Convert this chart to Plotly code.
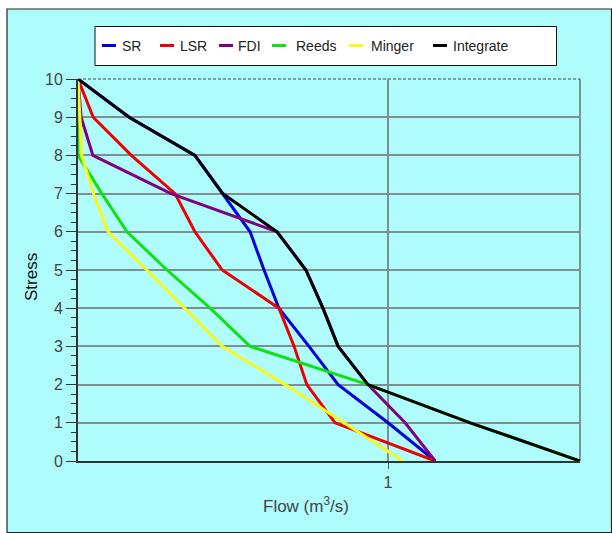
import plotly.graph_objects as go

# Stress levels (y) and flow for each method (x, m3/s)
stress = [10, 9, 8, 7, 6, 5, 4, 3, 2, 1, 0]
sr = [0, 0.165, 0.377, 0.467, 0.555, 0.60, 0.648, 0.745, 0.839, 1.0, 1.152]
lsr = [0, 0.049, 0.172, 0.313, 0.377, 0.465, 0.648, 0.697, 0.738, 0.829, 1.152]
fdi = [0, 0.01, 0.048, 0.30, 0.642, 0.735, 0.79, 0.839, 0.935, 1.055, 1.152]
reeds = [0, 0, 0, 0.077, 0.158, 0.287, 0.426, 0.555, 0.935, 1.265, 1.619]
minger = [0, 0.005, 0.012, 0.05, 0.097, 0.222, 0.345, 0.465, 0.668, 0.86, 1.048]
integrate = [0, 0.165, 0.377, 0.467, 0.642, 0.735, 0.79, 0.839, 0.935, 1.265, 1.619]

series_names = ["SR", "LSR", "FDI", "Reeds", "Minger", "Integrate"]
series_values = [sr, lsr, fdi, reeds, minger, integrate]
series_colors = ["#0000DD", "#EE0000", "#800080", "#11E011", "#F8F820", "#000000"]

x_ticks = [1]
y_ticks = list(range(0, 11))

BG = "#AEFCFC"
FONT = "Liberation Sans, Arial, sans-serif"

fig = go.Figure()
for name, vals, col in zip(series_names, series_values, series_colors):
    fig.add_trace(go.Scatter(x=vals, y=stress, mode="lines", name=name,
                             line=dict(color=col, width=3), showlegend=False))

# plot area geometry (pixels) used for paper-coordinate placement
L, R, T, B = 78, 580, 79, 461
W, H = R - L, B - T
px = lambda v: (v - L) / W
py = lambda v: (B - v) / H

shapes = [
    # outer frame with cyan fill
    dict(type="rect", xref="paper", yref="paper", x0=px(7), x1=px(611.5),
         y0=py(532.5), y1=py(9), fillcolor=BG, line=dict(color="#222", width=1.2),
         layer="below"),
    # top edge of the plot area: cover gridline, then dashed rule
    dict(type="line", xref="paper", yref="paper", x0=0, x1=1, y0=1, y1=1,
         line=dict(color=BG, width=2.5), layer="between"),
    dict(type="line", xref="paper", yref="paper", x0=0, x1=1, y0=1, y1=1,
         line=dict(color="#444", width=1, dash="3px,2px"), layer="between"),
    # right edge
    dict(type="line", xref="paper", yref="paper", x0=1, x1=1, y0=0, y1=1,
         line=dict(color="#707070", width=1.5), layer="between"),
    # legend box
    dict(type="rect", xref="paper", yref="paper", x0=px(95), x1=px(556.5),
         y0=py(65.5), y1=py(26.5), fillcolor="white",
         line=dict(color="#111", width=1), layer="above"),
]

annotations = []
leg_line_x = [102, 160, 219, 272, 349, 433]
leg_text_x = [120, 178, 236, 294, 369, 451]
leg_y = 45.5
for name, col, lx, tx in zip(series_names, series_colors, leg_line_x, leg_text_x):
    shapes.append(dict(type="line", xref="paper", yref="paper",
                       x0=px(lx), x1=px(lx + 14), y0=py(leg_y), y1=py(leg_y),
                       line=dict(color=col, width=3), layer="above"))
    annotations.append(dict(text=name, xref="paper", yref="paper",
                            x=px(tx), y=py(leg_y), xanchor="left", yanchor="middle",
                            showarrow=False, font=dict(family=FONT, size=14, color="#222")))

annotations.append(dict(text="Flow (m<sup>3</sup>/s)", xref="paper", yref="paper",
                        x=px(306), y=py(505), xanchor="center", yanchor="middle",
                        showarrow=False, font=dict(family=FONT, size=17, color="#444")))
annotations.append(dict(text="Stress", xref="paper", yref="paper", textangle=-90,
                        x=px(31), y=py(277), xanchor="center", yanchor="middle",
                        showarrow=False, font=dict(family=FONT, size=17, color="#111")))

fig.update_layout(
    width=612, height=533,
    margin=dict(l=L, r=612 - R, t=T, b=533 - B, pad=0),
    paper_bgcolor="white", plot_bgcolor=BG,
    font=dict(family=FONT, size=16, color="#444"),
    shapes=shapes, annotations=annotations,
    showlegend=False,
)
fig.update_xaxes(range=[0, 1.619], tickvals=x_ticks, ticks="outside", ticklen=6,
                 tickcolor="#555", showgrid=True, gridcolor="#7F8F8F", gridwidth=1.5,
                 showline=True, linecolor="#333", linewidth=2, zeroline=False,
                 tickfont=dict(size=16, color="#444"))
fig.update_yaxes(range=[0, 10], tickvals=y_ticks, ticks="outside", ticklen=10,
                 tickcolor="#333", showgrid=True, gridcolor="#7F8F8F", gridwidth=1.5,
                 showline=True, linecolor="#333", linewidth=2, zeroline=False,
                 tickfont=dict(size=16, color="#444"),
                 minor=dict(dtick=0.25, ticks="outside", ticklen=5, tickcolor="#333",
                            showgrid=False))

fig.write_html("out.html")
